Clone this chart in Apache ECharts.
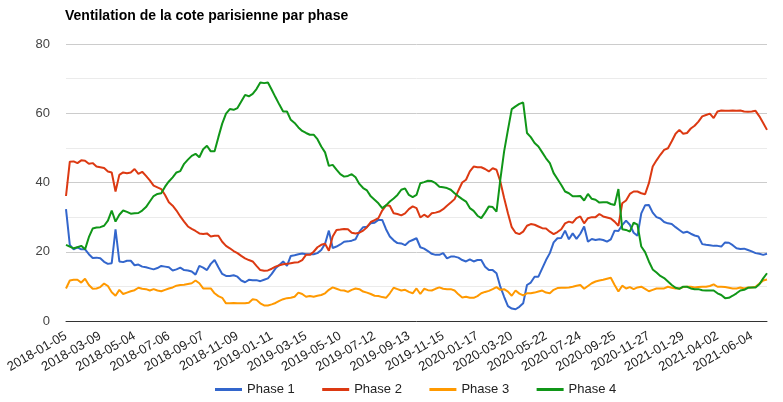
<!DOCTYPE html>
<html>
<head>
<meta charset="utf-8">
<script src="https://cdn.jsdelivr.net/npm/echarts@6/dist/echarts.min.js"></script>
<style>
html,body{margin:0;padding:0;background:#fff;}
#chart{width:783px;height:402px;}
</style>
</head>
<body>
<div id="chart"></div>
<script>
// Series names
var seriesNames = ["Phase 1", "Phase 2", "Phase 3", "Phase 4"];
var yTicks = [0, 20, 40, 60, 80];

// Weekly (Friday) dates, plus two extra pre-Easter sessions
var extraDates = ["2018-03-29", "2019-04-18"];
var dates = (function () {
  var out = [];
  var d = new Date(Date.UTC(2018, 0, 5));
  var end = new Date(Date.UTC(2021, 6, 2));
  function fmt(x) { return x.toISOString().slice(0, 10); }
  while (d <= end) {
    var s = fmt(d);
    extraDates.forEach(function (e) {
      var ed = new Date(e + "T00:00:00Z");
      if (ed < d && ed > new Date(d.getTime() - 7 * 864e5)) out.push(e);
    });
    out.push(s);
    d = new Date(d.getTime() + 7 * 864e5);
  }
  return out;
})();

var phase1 = [
  32.3, 22.0, 20.7, 21.3, 20.7, 20.7, 19.3, 18.2, 18.3, 18.1, 17.1, 16.5, 16.7, 26.5, 17.2, 17.0, 17.4, 17.4, 16.1, 16.3,
  15.7, 15.5, 15.2, 14.9, 15.3, 15.9, 15.7, 15.5, 14.6, 14.9, 15.4, 14.7, 14.6, 14.3, 13.4, 15.9, 15.4,
  14.7, 16.5, 17.6, 15.5, 13.6, 13.0, 13.0, 13.2, 12.8, 11.7, 11.2, 11.9, 11.8, 11.8, 11.5, 11.9, 12.3, 13.6, 15.2, 16.2,
  17.2, 15.9, 18.8, 19.0, 19.3, 19.5, 19.3, 19.3, 19.3, 19.6, 20.5, 22.3, 26.1, 21.1, 21.5,
  22.1, 22.9, 23.0, 23.2, 23.6, 25.8, 27.1, 27.2, 28.2, 28.4, 29.2, 29.2, 26.5, 24.4, 23.3, 22.5, 22.4, 21.9, 22.9, 23.4,
  23.9, 21.3, 20.9, 20.2, 19.4, 19.1, 19.1, 19.6, 18.1, 18.6, 18.6, 18.3, 17.6, 17.2, 17.8, 17.2, 17.6,
  17.6, 15.7, 14.7, 14.7, 13.8, 9.9, 7.0, 4.3, 3.6, 3.4, 4.1, 5.1, 10.4, 11.1, 12.8, 12.8, 15.2, 17.6, 19.6, 22.7,
  23.9, 24.0, 26.1, 23.6, 25.3, 23.7, 25.2, 27.3, 22.9, 23.7, 23.4, 23.6, 23.4, 22.9, 23.6, 26.1,
  26.0, 27.7, 29.0, 27.8, 25.5, 24.6, 31.1, 33.4, 33.5, 31.3, 30.0, 29.6, 28.6, 28.2, 28.0, 27.1, 26.3, 25.5, 25.8, 25.2,
  24.7, 24.4, 22.2, 22.0, 21.9, 21.7, 21.7, 21.5, 22.7, 22.6, 21.9, 21.0, 20.8, 20.9, 20.5, 20.1, 19.6, 19.4, 19.1, 19.4
];
var phase2 = [
  36.1, 46.0, 46.1, 45.6, 46.4, 46.3, 45.4, 45.6, 44.6, 44.4, 44.2, 43.2, 42.9, 37.4, 42.2, 42.9, 42.7, 42.9, 43.9, 42.5,
  43.1, 41.9, 40.6, 39.1, 38.6, 38.1, 36.4, 34.3, 33.3, 31.9, 30.2, 28.7, 27.3, 26.6, 26.0, 25.3, 25.1,
  25.3, 24.4, 24.6, 24.6, 22.9, 21.7, 21.0, 20.2, 19.6, 18.8, 18.1, 17.6, 17.2, 15.9, 14.7, 14.5, 14.6, 15.1, 15.7, 16.1,
  16.4, 16.5, 16.7, 16.9, 17.0, 17.6, 19.1, 19.1, 20.0, 21.3, 22.0, 22.3, 20.3, 24.4, 26.3,
  26.4, 26.6, 26.5, 25.5, 25.3, 25.5, 26.1, 27.1, 28.6, 29.1, 29.7, 31.9, 33.4, 33.3, 31.1, 30.9, 30.5, 31.1, 32.3, 33.1,
  32.6, 29.9, 30.7, 30.0, 31.1, 31.3, 31.6, 32.3, 33.3, 34.2, 35.2, 37.7, 40.0, 40.8, 43.2, 44.6, 44.4,
  44.4, 43.9, 43.2, 44.1, 43.7, 40.3, 35.5, 31.1, 27.1, 25.5, 25.1, 25.8, 27.5, 28.0, 27.8, 27.3, 26.8, 26.7, 25.8, 25.1,
  25.7, 26.5, 28.2, 28.7, 28.4, 29.7, 30.2, 28.2, 29.7, 30.0, 30.0, 30.9, 30.2, 29.9, 29.6, 28.7,
  27.5, 34.0, 34.8, 36.7, 37.4, 37.4, 36.9, 36.6, 39.8, 44.6, 46.4, 48.0, 49.4, 49.9, 51.9, 54.1, 55.2, 54.1, 54.3, 55.6,
  56.4, 57.6, 59.1, 59.5, 59.9, 58.6, 60.5, 60.8, 60.7, 60.7, 60.8, 60.7, 60.8, 60.5, 60.4, 60.5, 60.7, 59.1, 57.2, 55.2
];
var phase3 = [
  9.4, 11.7, 11.9, 11.9, 11.1, 12.2, 10.4, 9.3, 9.4, 9.8, 10.8, 10.1, 8.3, 7.3, 9.0, 7.8, 8.2, 8.6, 8.9, 9.6,
  9.3, 9.2, 8.8, 9.2, 8.8, 8.6, 9.0, 9.4, 9.7, 10.2, 10.4, 10.5, 10.7, 10.9, 11.7, 10.9, 9.4,
  9.4, 9.4, 8.0, 7.2, 6.7, 5.1, 5.1, 5.2, 5.1, 5.1, 5.1, 5.3, 6.3, 6.1, 5.1, 4.5, 4.5, 4.8, 5.2, 5.8,
  6.3, 6.6, 6.7, 7.0, 8.2, 7.8, 7.0, 7.2, 7.0, 7.3, 7.5, 8.0, 9.0, 9.7, 9.3,
  8.9, 8.8, 8.4, 9.0, 9.4, 9.2, 8.5, 8.2, 7.8, 7.3, 7.2, 6.9, 6.7, 8.0, 9.6, 9.2, 8.8, 9.0, 8.4, 8.0,
  9.4, 7.8, 9.3, 8.9, 8.8, 9.3, 9.7, 9.3, 9.2, 9.2, 8.8, 7.7, 6.8, 7.0, 6.7, 6.7, 7.2,
  8.0, 8.4, 8.7, 9.2, 9.8, 9.0, 9.2, 8.5, 7.3, 8.8, 7.9, 7.4, 8.0, 8.0, 8.2, 8.5, 8.8, 8.2, 8.0, 9.0,
  9.5, 9.6, 9.6, 9.7, 9.9, 10.2, 10.4, 9.3, 10.1, 10.9, 11.4, 11.7, 11.9, 12.2, 12.5, 10.4,
  8.5, 10.2, 9.4, 9.8, 9.2, 9.7, 9.9, 9.3, 8.6, 9.0, 9.4, 9.4, 9.4, 9.9, 9.6, 9.4, 9.4, 9.8, 9.9, 9.9,
  9.7, 9.8, 9.9, 9.9, 10.1, 10.6, 9.9, 9.9, 9.8, 9.6, 9.4, 9.4, 9.7, 9.4, 9.7, 9.7, 9.9, 10.8, 11.7, 12.0
];
var phase4 = [
  22.0, 21.5, 21.0, 21.3, 21.7, 20.7, 24.2, 26.7, 27.0, 27.1, 27.5, 29.0, 31.9, 28.7, 30.7, 31.9, 31.5, 31.0, 31.1, 31.2,
  31.9, 32.9, 34.5, 36.1, 36.7, 36.9, 38.8, 40.3, 41.5, 42.9, 43.3, 45.4, 46.6, 47.7, 48.3, 47.3, 49.6,
  50.6, 49.0, 49.0, 53.1, 57.0, 59.9, 61.2, 61.0, 61.5, 63.4, 65.3, 64.9, 65.6, 67.0, 68.9, 68.7, 68.9, 66.8, 64.6, 62.5,
  60.5, 60.5, 58.1, 57.2, 55.9, 54.9, 54.3, 53.8, 53.8, 52.5, 50.4, 48.7, 44.8, 45.1, 43.7,
  42.4, 41.7, 41.9, 42.4, 41.5, 39.6, 38.4, 37.7, 36.0, 35.0, 34.0, 32.6, 33.4, 34.5, 35.4, 36.4, 37.9, 38.3, 36.4, 35.8,
  36.4, 39.8, 40.1, 40.5, 40.4, 39.8, 38.8, 38.6, 38.4, 37.9, 36.9, 36.0, 35.2, 34.5, 32.6, 31.8, 30.4,
  29.7, 31.3, 33.1, 32.9, 31.6, 40.8, 49.0, 55.2, 61.2, 62.0, 62.7, 63.1, 54.3, 53.1, 51.4, 50.4, 48.7, 47.0, 45.6, 42.7,
  41.0, 39.3, 37.4, 36.9, 36.0, 36.0, 36.1, 34.8, 36.7, 35.3, 35.0, 34.2, 34.3, 34.3, 33.8, 33.5,
  38.1, 26.5, 26.3, 25.8, 28.4, 27.8, 21.5, 19.9, 17.2, 14.9, 14.0, 13.0, 12.4, 11.4, 10.4, 9.6, 9.3, 9.9, 9.9, 9.4,
  9.2, 9.2, 8.9, 8.8, 8.8, 8.8, 8.0, 7.5, 6.6, 6.7, 7.3, 8.0, 8.8, 9.0, 9.6, 9.7, 9.7, 10.6, 12.3, 13.8
];

var colors = ["#3366cc", "#dc3912", "#ff9900", "#109618"];
var allData = [phase1, phase2, phase3, phase4];

var chart = echarts.init(document.getElementById("chart"), null, { renderer: "canvas" });
chart.setOption({
  animation: false,
  backgroundColor: "#ffffff",
  color: colors,
  textStyle: { fontFamily: "Liberation Sans, Arial, sans-serif" },
  title: {
    text: "Ventilation de la cote parisienne par phase",
    left: 60, top: 4,
    textStyle: { fontSize: 14, fontWeight: "bold", color: "#000", fontFamily: "Liberation Sans, Arial, sans-serif" }
  },
  legend: {
    top: 378,
    left: 210,
    icon: "rect",
    itemWidth: 27,
    itemHeight: 3,
    itemGap: 27.5,
    textStyle: { fontSize: 13, color: "#222" },
    data: seriesNames
  },
  grid: { left: 66, right: 16, top: 44, bottom: 81, containLabel: false },
  xAxis: {
    type: "category",
    boundaryGap: false,
    data: dates,
    axisTick: { show: false },
    axisLine: { lineStyle: { color: "#333", width: 1 } },
    axisLabel: { interval: 8, rotate: 30, fontSize: 13, color: "#222", margin: 14 },
    splitLine: { show: false }
  },
  yAxis: {
    type: "value",
    min: yTicks[0], max: yTicks[yTicks.length - 1], interval: 20,
    axisLine: { show: false },
    axisTick: { show: false },
    axisLabel: { fontSize: 13, color: "#444", margin: 16 },
    splitLine: { lineStyle: { color: "#cccccc", width: 1 } },
    minorTick: { show: false, splitNumber: 2 },
    minorSplitLine: { show: true, lineStyle: { color: "#ebebeb", width: 1 } }
  },
  series: seriesNames.map(function (n, k) {
    return {
      name: n,
      type: "line",
      data: allData[k],
      showSymbol: false,
      symbol: "none",
      lineStyle: { width: 2, color: colors[k] },
      itemStyle: { color: colors[k] }
    };
  })
});
</script>
</body>
</html>
